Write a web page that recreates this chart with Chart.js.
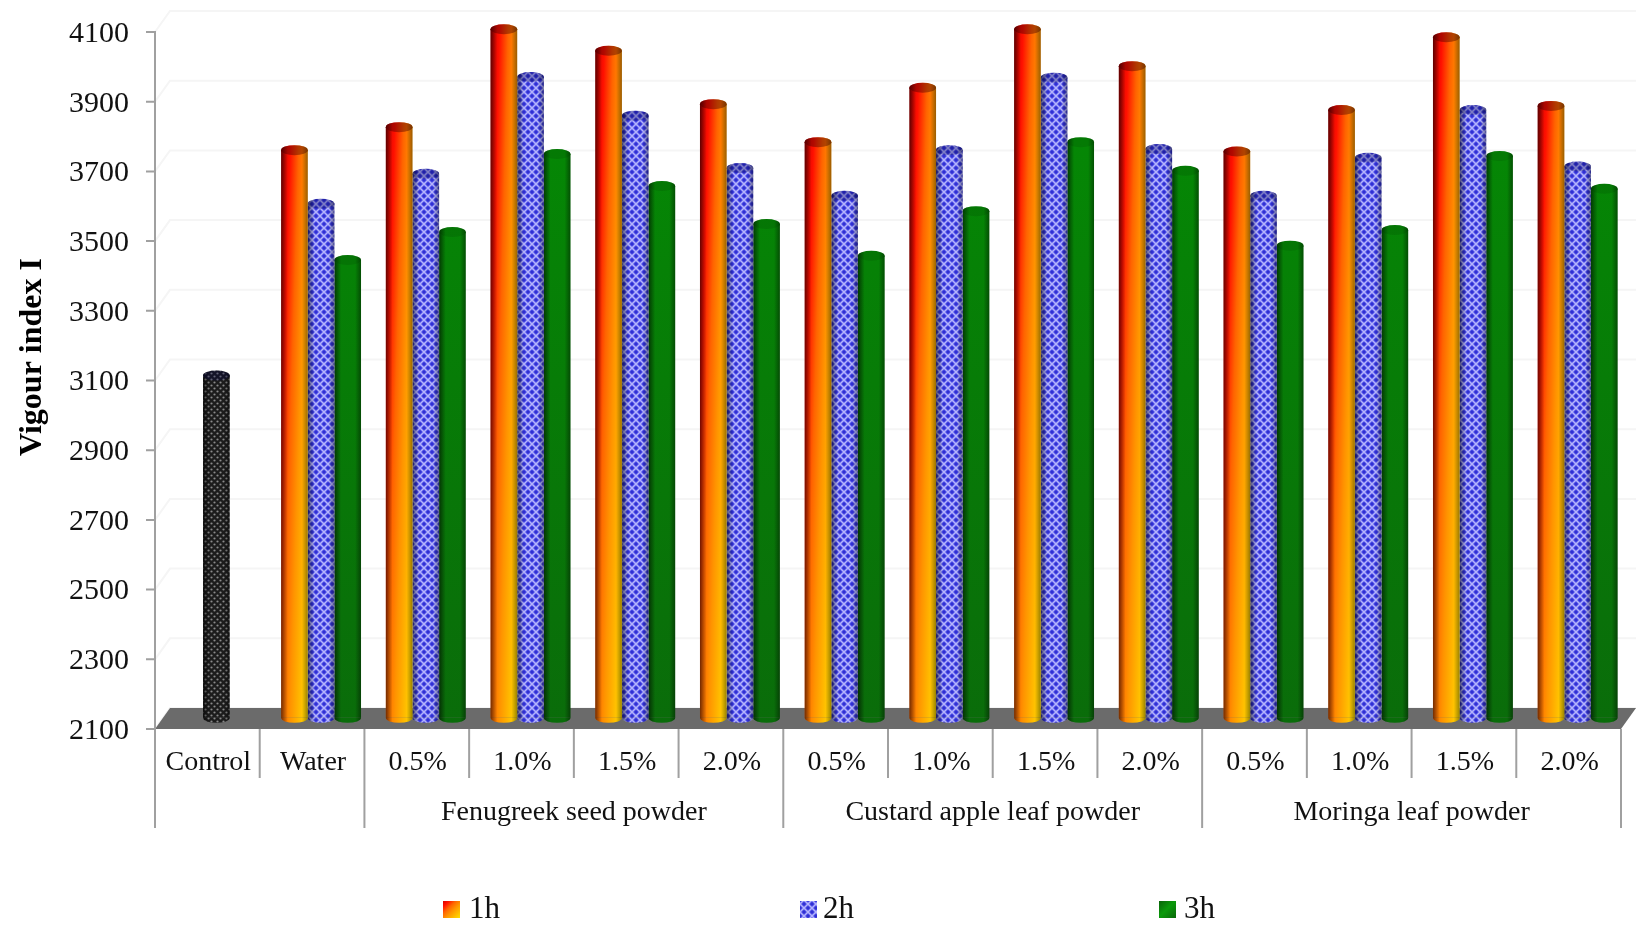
<!DOCTYPE html>
<html>
<head>
<meta charset="utf-8">
<title>Vigour index I</title>
<script src="https://cdn.jsdelivr.net/npm/chart.js@4"></script>
<style>
    html, body { margin: 0; padding: 0; background: #fff; }
    canvas { display: block; }
</style>
</head>
<body>
<canvas id="vigourChart" width="1640" height="925"></canvas>
<script>
// Dati del grafico
const categorie = ['Control', 'Water', '0.5%', '1.0%', '1.5%', '2.0%', '0.5%', '1.0%', '1.5%', '2.0%', '0.5%', '1.0%', '1.5%', '2.0%'];
const gruppi = ['Fenugreek seed powder', 'Custard apple leaf powder', 'Moringa leaf powder'];
const gruppiInizio = [2, 6, 10];
const serie = ['1h', '2h', '3h'];
const valori1h = [null, 3761, 3827, 4108, 4046, 3893, 3784, 3940, 4108, 4002, 3757, 3876, 4085, 3888];
const valori2h = [3114, 3607, 3693, 3971, 3860, 3710, 3630, 3761, 3969, 3764, 3630, 3739, 3876, 3714];
const valori3h = [null, 3446, 3526, 3750, 3658, 3549, 3458, 3586, 3784, 3702, 3487, 3532, 3744, 3650];
const tickY = [2100, 2300, 2500, 2700, 2900, 3100, 3300, 3500, 3700, 3900, 4100];
const baseBarre = 2132;

const FONT = '"Liberation Serif", "Times New Roman", serif';
const SPOSTAMENTO = 8;      // i cilindri stanno a metà profondità rispetto alle etichette
const MURO_DX = 15, MURO_DY = 21;

const canvas = document.getElementById('vigourChart');
const ctx = canvas.getContext('2d');

// Trama del 2h: reticolo chiaro con punti blu scuro
function creaTramaBlu() {
    const t = document.createElement('canvas');
    t.width = 8; t.height = 8;
    const c = t.getContext('2d');
    c.fillStyle = '#5c5cf0';
    c.fillRect(0, 0, 8, 8);
    c.strokeStyle = '#b4b4fa';
    c.lineWidth = 1.4;
    c.beginPath();
    c.moveTo(-1, -1); c.lineTo(9, 9);
    c.moveTo(9, -1); c.lineTo(-1, 9);
    c.stroke();
    c.fillStyle = '#3030d2';
    [[4, 0], [4, 8], [0, 4], [8, 4]].forEach(p => {
        c.beginPath();
        c.arc(p[0], p[1], 1.7, 0, Math.PI * 2);
        c.fill();
    });
    return ctx.createPattern(t, 'repeat');
}

// Trama del controllo: nero con puntini grigi
function creaTramaNera() {
    const t = document.createElement('canvas');
    t.width = 6; t.height = 6;
    const c = t.getContext('2d');
    c.fillStyle = '#1c1c1c';
    c.fillRect(0, 0, 6, 6);
    c.fillStyle = '#8a8a8a';
    [[1.5, 1.5], [4.5, 4.5]].forEach(p => {
        c.beginPath();
        c.arc(p[0], p[1], 1.1, 0, Math.PI * 2);
        c.fill();
    });
    return ctx.createPattern(t, 'repeat');
}

const tramaBlu = creaTramaBlu();
const tramaNera = creaTramaNera();

function aggiungiStopArancio(g) {
    g.addColorStop(0, '#d00000');
    g.addColorStop(0.2, '#ff1000');
    g.addColorStop(0.4, '#ff6400');
    g.addColorStop(0.6, '#ff9400');
    g.addColorStop(0.8, '#ffb800');
    g.addColorStop(1, '#ffdc00');
}

// Gradiente obliquo: rosso-arancio in alto, arancio-giallo in basso
function riempimento1h(context) {
    const chart = context.chart;
    if (context.type !== 'data' || !context.parsed || context.parsed.y == null) return '#ff8400';
    const w = chart.scales.x.width / categorie.length * 0.763 / 3;
    const y0 = chart.scales.y.getPixelForValue(context.parsed.y);
    const h = chart.scales.y.getPixelForValue(baseBarre) - y0 + 5;
    const cat = chart.scales.x.getPixelForValue(context.dataIndex);
    const x0 = cat - w * 1.5;
    if (!(w > 0) || !(h > 0) || !Number.isFinite(x0)) return '#ff8400';
    const a = 0.6 / w, b = 0.4 / h;
    const n = a * a + b * b;
    const g = chart.ctx.createLinearGradient(x0, y0, x0 + a / n, y0 + b / n);
    aggiungiStopArancio(g);
    return g;
}

function riempimento2h(context) {
    return context.dataIndex === 0 ? tramaNera : tramaBlu;
}

function riempimento3h(context) {
    const chart = context.chart;
    if (!chart.chartArea) return '#0a7d0a';
    const g = chart.ctx.createLinearGradient(0, chart.chartArea.top, 0, chart.chartArea.bottom);
    g.addColorStop(0, '#048c04');
    g.addColorStop(1, '#0a6c0a');
    return g;
}

const ombreCappello = ['rgba(70,0,0,0.42)', 'rgba(0,0,70,0.3)', 'rgba(0,40,0,0.14)'];

// Muro di fondo, pavimento e assi disegnati sotto le barre
const sfondo3d = {
    id: 'sfondo3d',
    beforeDatasetsDraw(chart) {
        const c = chart.ctx;
        const y = chart.scales.y;
        const asseX = chart.chartArea.left - SPOSTAMENTO - 1;
        const destra = chart.chartArea.right - SPOSTAMENTO - 1;
        const fondo = y.getPixelForValue(2100);
        c.save();

        // griglia sul muro di fondo
        c.strokeStyle = '#f5f5f5';
        c.lineWidth = 2;
        tickY.forEach(v => {
            const py = y.getPixelForValue(v);
            c.beginPath();
            c.moveTo(asseX, py);
            c.lineTo(asseX + MURO_DX, py - MURO_DY);
            c.lineTo(destra + MURO_DX, py - MURO_DY);
            c.stroke();
        });

        // pavimento
        c.fillStyle = '#6b6b6b';
        c.beginPath();
        c.moveTo(asseX, fondo);
        c.lineTo(destra, fondo);
        c.lineTo(destra + MURO_DX, fondo - MURO_DY);
        c.lineTo(asseX + MURO_DX, fondo - MURO_DY);
        c.closePath();
        c.fill();

        // asse verticale con le tacche
        c.strokeStyle = '#a0a0a0';
        c.lineWidth = 2;
        c.beginPath();
        c.moveTo(asseX, y.getPixelForValue(4100) - 1);
        c.lineTo(asseX, fondo);
        tickY.forEach(v => {
            const py = y.getPixelForValue(v);
            c.moveTo(asseX - 9, py);
            c.lineTo(asseX, py);
        });
        c.stroke();

        // separatori della tabella sotto l'asse
        const x = chart.scales.x;
        const larg = x.width / categorie.length;
        const lunghi = [0, 2, 6, 10, 14];
        c.beginPath();
        for (let i = 0; i <= categorie.length; i++) {
            const px = asseX + i * larg;
            c.moveTo(px, fondo);
            c.lineTo(px, fondo + (lunghi.includes(i) ? 99 : 49));
        }
        c.stroke();

        // etichette dei gruppi
        c.fillStyle = '#111';
        c.font = '28px ' + FONT;
        c.textAlign = 'center';
        c.textBaseline = 'middle';
        gruppi.forEach((nome, i) => {
            c.fillText(nome, asseX + (gruppiInizio[i] + 2) * larg, 813);
        });

        // titolo dell'asse Y
        c.save();
        c.translate(33, 357);
        c.rotate(-Math.PI / 2);
        c.font = 'bold 32px ' + FONT;
        c.fillStyle = '#000';
        c.fillText('Vigour index I', 0, 0);
        c.restore();

        disegnaLegenda(c);
        c.restore();
    },
    // Basi e cappelli ellittici sopra ogni barra
    afterDatasetDraw(chart, args) {
        const c = chart.ctx;
        const dati = chart.data.datasets[args.index].data;
        args.meta.data.forEach((bar, i) => {
            if (dati[i] == null) return;
            const p = bar.getProps(['x', 'y', 'base', 'width'], true);
            const r = p.width / 2;
            const sx = p.x - r, dx = p.x + r;
            c.save();

            // base arrotondata
            c.fillStyle = bar.options.backgroundColor;
            c.beginPath();
            c.ellipse(p.x, p.base, r, 5, 0, 0, Math.PI);
            c.fill();

            // ombra laterale del cilindro
            const ombra = c.createLinearGradient(sx, 0, dx, 0);
            ombra.addColorStop(0, 'rgba(0,0,0,0.55)');
            ombra.addColorStop(0.25, 'rgba(0,0,0,0)');
            ombra.addColorStop(0.78, 'rgba(0,0,0,0)');
            ombra.addColorStop(1, 'rgba(0,0,0,0.4)');
            c.fillStyle = ombra;
            c.beginPath();
            c.moveTo(sx, p.y);
            c.lineTo(dx, p.y);
            c.lineTo(dx, p.base);
            c.ellipse(p.x, p.base, r, 5, 0, 0, Math.PI);
            c.closePath();
            c.fill();

            // cappello
            c.beginPath();
            c.ellipse(p.x, p.y, r, 5, 0, 0, Math.PI * 2);
            c.fillStyle = bar.options.backgroundColor;
            c.fill();
            c.fillStyle = ombra;
            c.fill();
            c.fillStyle = ombreCappello[args.index];
            c.fill();
            c.restore();
        });
    }
};

// Legenda in basso, con le stesse campiture delle barre
function disegnaLegenda(c) {
    const posizioni = [[443, 469], [800, 823], [1159, 1184]];
    const gradArancio = c.createLinearGradient(443, 900, 460, 917);
    aggiungiStopArancio(gradArancio);
    const gradVerde = c.createLinearGradient(1159, 900, 1176, 917);
    gradVerde.addColorStop(0, '#0a5f0a');
    gradVerde.addColorStop(0.5, '#0a9a0a');
    gradVerde.addColorStop(1, '#0a6a0a');
    const campiture = [gradArancio, tramaBlu, gradVerde];
    c.font = '31px ' + FONT;
    c.textAlign = 'left';
    c.textBaseline = 'middle';
    serie.forEach((nome, i) => {
        c.fillStyle = campiture[i];
        c.fillRect(posizioni[i][0], 901, 17, 17);
        c.fillStyle = '#111';
        c.fillText(nome, posizioni[i][1], 910);
    });
}

new Chart(ctx, {
    type: 'bar',
    data: {
        labels: categorie,
        datasets: [
            { label: serie[0], data: valori1h, backgroundColor: riempimento1h },
            { label: serie[1], data: valori2h, backgroundColor: riempimento2h },
            { label: serie[2], data: valori3h, backgroundColor: riempimento3h }
        ]
    },
    options: {
        responsive: false,
        animation: false,
        devicePixelRatio: 1,
        categoryPercentage: 0.763,
        barPercentage: 1,
        base: baseBarre,
        clip: false,
        layout: { padding: { top: 32, right: 10, left: 0, bottom: 0 } },
        plugins: {
            legend: { display: false },
            tooltip: { enabled: false }
        },
        scales: {
            x: {
                grid: { display: false },
                border: { display: false },
                ticks: {
                    autoSkip: false,
                    maxRotation: 0,
                    minRotation: 0,
                    padding: 9,
                    labelOffset: -SPOSTAMENTO,
                    color: '#111',
                    font: { family: FONT, size: 28 }
                },
                afterFit(scale) {
                    scale.height = 196;
                    scale.paddingLeft = 0;
                    scale.paddingRight = 0;
                }
            },
            y: {
                min: 2100,
                max: 4100,
                afterBuildTicks(scale) { scale.ticks = tickY.map(v => ({ value: v })); },
                grid: { display: false },
                border: { display: false },
                ticks: {
                    padding: 27,
                    labelOffset: 2,
                    color: '#111',
                    font: { family: FONT, size: 30 },
                    callback: v => String(v)
                },
                afterFit(scale) {
                    scale.width = 164;
                    scale.paddingTop = 0;
                    scale.paddingBottom = 0;
                }
            }
        }
    },
    plugins: [sfondo3d]
});
</script>
</body>
</html>
